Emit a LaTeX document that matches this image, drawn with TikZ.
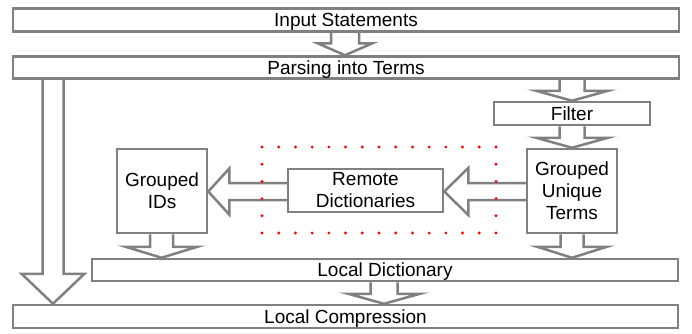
\documentclass[tikz,border=0pt]{standalone}
\usepackage{fontspec}
\setmainfont{Liberation Sans}
\usetikzlibrary{calc,backgrounds}
\definecolor{linegray}{HTML}{808080}
\definecolor{dotred}{HTML}{FF0000}
\tikzset{
  box/.style={draw=linegray, line width=2.5pt, fill=white, inner sep=0pt,
    font=\fontsize{19}{22}\selectfont, align=center},
  oneline/.style={box, text height=14pt, text depth=1pt},
  blk/.style={draw=linegray, line width=2.5pt, fill=white, line join=miter},
}
% vertical block arrow: from, to, xcenter, shaft half width, head half width, head length
\newcommand\vblock[6]{%
  \draw[blk] let \p1=(#1.south), \p2=(#2.north) in
    (#3-#4,\y1) -- (#3-#4,\y2+#6) -- (#3-#5,\y2+#6) -- (#3,\y2) --
    (#3+#5,\y2+#6) -- (#3+#4,\y2+#6) -- (#3+#4,\y1);}
% horizontal (leftward) block arrow: from, to, ycenter(canvas), shaft hw, head hw, head length
\newcommand\hblock[6]{%
  \draw[blk] let \p1=(#1.west), \p2=(#2.east) in
    (\x1,#3+#4) -- (\x2+#6,#3+#4) -- (\x2+#6,#3+#5) -- (\x2,#3) --
    (\x2+#6,#3-#5) -- (\x2+#6,#3-#4) -- (\x1,#3-#4);}
\begin{document}
\begin{tikzpicture}[x=1pt,y=-1pt]
\useasboundingbox (0,0) rectangle (692,333);
\path
  (346,20)    node[oneline, minimum width=666pt, minimum height=23pt] (input) {Input Statements}
  (346,67.5)  node[oneline, minimum width=666pt, minimum height=22pt] (parse) {Parsing into Terms}
  (572,113.5) node[oneline, minimum width=156pt, minimum height=23pt] (filter) {Filter}
  (572,191)   node[box, minimum width=90pt, minimum height=84pt] (gut) {Grouped\\Unique\\Terms}
  (365.5,190.5) node[box, minimum width=155pt, minimum height=43pt] (remote) {Remote\\Dictionaries}
  (162,191)   node[box, minimum width=90pt, minimum height=84pt] (gids) {Grouped\\IDs}
  (385,270)   node[oneline, minimum width=586pt, minimum height=22pt] (ldict) {Local Dictionary}
  (345.5,316.5) node[oneline, minimum width=665pt, minimum height=23pt] (lcomp) {Local Compression};
\begin{pgfonlayer}{background}
\vblock{input}{parse}{345pt}{14pt}{27.5pt}{12pt}
\vblock{parse}{filter}{572pt}{12.5pt}{36pt}{10pt}
\vblock{filter}{gut}{572pt}{12.5pt}{36pt}{10pt}
\vblock{gids}{ldict}{161.5pt}{11.5pt}{36pt}{11pt}
\vblock{gut}{ldict}{572pt}{11.5pt}{35pt}{11pt}
\vblock{ldict}{lcomp}{384pt}{13.5pt}{36pt}{10pt}
\vblock{parse}{lcomp}{53pt}{10.5pt}{31.5pt}{30pt}
\hblock{gut}{remote}{-191.5pt}{8.5pt}{23.5pt}{24pt}
\hblock{remote}{gids}{-191.5pt}{8.5pt}{23pt}{21pt}
\end{pgfonlayer}
% red dotted region
\foreach \i in {0,...,14} {
  \fill[dotred] (262+\i*16.714,147) circle (1.6pt);
  \fill[dotred] (262+\i*16.714,233) circle (1.6pt);
}
\foreach \j in {1,...,4} {
  \fill[dotred] (262,147+\j*17.2) circle (1.6pt);
  \fill[dotred] (496,147+\j*17.2) circle (1.6pt);
}
\end{tikzpicture}
\end{document}
